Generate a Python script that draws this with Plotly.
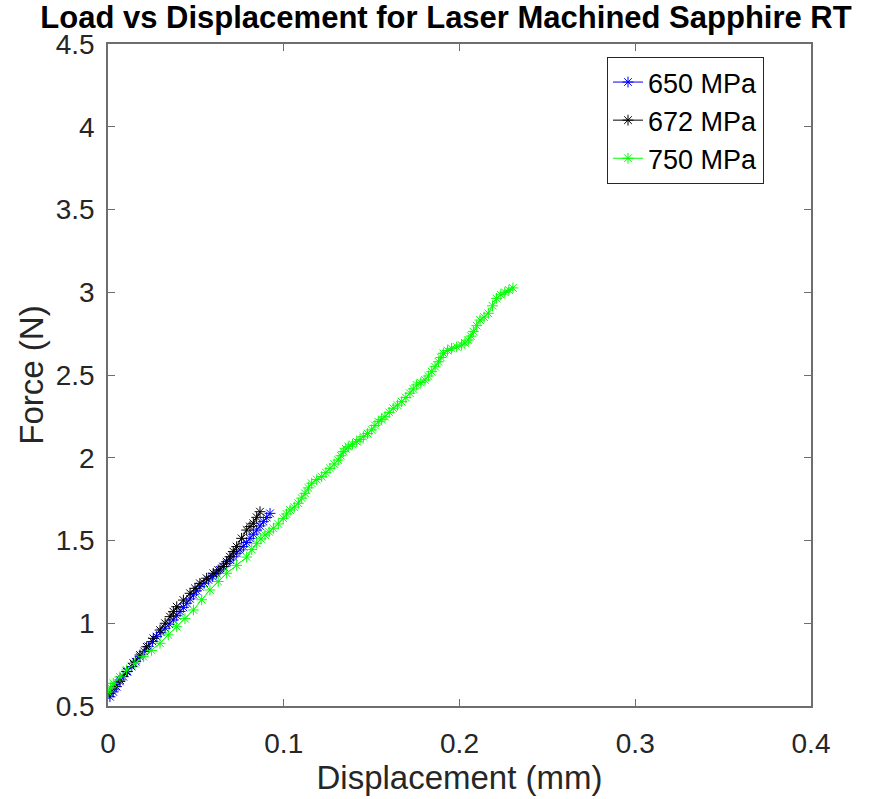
import plotly.graph_objects as go

# ---- data ----
disp_650 = [0.0011, 0.0030, 0.0049, 0.0068, 0.0087, 0.0111, 0.0135, 0.0158, 0.0182, 0.0206,
            0.0230, 0.0253, 0.0277, 0.0301, 0.0325, 0.0348, 0.0372, 0.0391, 0.0410, 0.0429,
            0.0448, 0.0467, 0.0486, 0.0504, 0.0523, 0.0547, 0.0571, 0.0594, 0.0618, 0.0637,
            0.0656, 0.0675, 0.0694, 0.0713, 0.0732, 0.0751, 0.0770, 0.0789, 0.0808, 0.0827,
            0.0846, 0.0865, 0.0884, 0.0903, 0.0922]
force_650 = [0.556, 0.585, 0.617, 0.648, 0.677, 0.708, 0.738, 0.768, 0.798, 0.830,
             0.860, 0.890, 0.919, 0.945, 0.970, 0.995, 1.020, 1.046, 1.071, 1.096,
             1.121, 1.147, 1.172, 1.196, 1.221, 1.242, 1.262, 1.282, 1.302, 1.322,
             1.342, 1.362, 1.382, 1.402, 1.423, 1.443, 1.463, 1.488, 1.513, 1.538,
             1.563, 1.588, 1.614, 1.639, 1.664]

disp_672 = [0.0011, 0.0040, 0.0068, 0.0106, 0.0144, 0.0182, 0.0220, 0.0258, 0.0296, 0.0325,
            0.0353, 0.0372, 0.0391, 0.0429, 0.0467, 0.0495, 0.0523, 0.0561, 0.0599, 0.0627,
            0.0656, 0.0675, 0.0694, 0.0713, 0.0732, 0.0760, 0.0789, 0.0808, 0.0827, 0.0846,
            0.0865]
force_672 = [0.577, 0.617, 0.657, 0.708, 0.758, 0.808, 0.858, 0.909, 0.959, 1.000,
             1.040, 1.070, 1.100, 1.140, 1.181, 1.211, 1.241, 1.272, 1.302, 1.322,
             1.342, 1.372, 1.402, 1.433, 1.463, 1.513, 1.563, 1.584, 1.604, 1.640,
             1.674]

disp_750 = [0.000, 0.0015, 0.003, 0.0068, 0.0106, 0.0153, 0.0201, 0.0248, 0.0296, 0.0343,
            0.0391, 0.0438, 0.0486, 0.0533, 0.0580, 0.0627, 0.0675, 0.0732, 0.0789, 0.0818,
            0.0846, 0.0870, 0.0893, 0.0917, 0.0941, 0.0969, 0.0997, 0.1016, 0.1036, 0.1060,
            0.1083, 0.1102, 0.1121, 0.1140, 0.1159, 0.1188, 0.1216, 0.1240, 0.1263, 0.1287,
            0.1310, 0.1325, 0.1339, 0.1353, 0.1367, 0.1391, 0.1415, 0.1434, 0.1453, 0.1477,
            0.1500, 0.1519, 0.1538, 0.1557, 0.1576, 0.1600, 0.1623, 0.1647, 0.1671, 0.1695,
            0.1718, 0.1737, 0.1756, 0.1780, 0.1804, 0.1823, 0.1842, 0.1861, 0.1880, 0.1894,
            0.1908, 0.1932, 0.1955, 0.1984, 0.2012, 0.2031, 0.2050, 0.2065, 0.2079, 0.2098,
            0.2117, 0.2140, 0.2164, 0.2188, 0.2211, 0.2235, 0.2258, 0.2281, 0.2304]
force_750 = [0.585, 0.610, 0.637, 0.676, 0.718, 0.757, 0.798, 0.836, 0.879, 0.930,
             0.979, 1.028, 1.080, 1.142, 1.201, 1.252, 1.302, 1.350, 1.400, 1.445,
             1.483, 1.510, 1.533, 1.552, 1.574, 1.600, 1.634, 1.660, 1.684, 1.702,
             1.725, 1.756, 1.785, 1.818, 1.846, 1.868, 1.886, 1.910, 1.936, 1.962,
             1.986, 2.012, 2.037, 2.054, 2.067, 2.082, 2.097, 2.110, 2.127, 2.146,
             2.168, 2.195, 2.218, 2.232, 2.248, 2.274, 2.299, 2.318, 2.339, 2.364,
             2.390, 2.416, 2.440, 2.454, 2.470, 2.494, 2.520, 2.550, 2.580, 2.606,
             2.631, 2.648, 2.661, 2.670, 2.681, 2.694, 2.711, 2.735, 2.762, 2.798,
             2.832, 2.850, 2.873, 2.918, 2.963, 2.985, 3.000, 3.013, 3.026]

series_names = ["650 MPa", "672 MPa", "750 MPa"]
series_colors = ["#0000ff", "#000000", "#00ff00"]

x_ticks = [0, 0.1, 0.2, 0.3, 0.4]
x_tick_labels = ["0", "0.1", "0.2", "0.3", "0.4"]
y_ticks = [0.5, 1, 1.5, 2, 2.5, 3, 3.5, 4, 4.5]
y_tick_labels = ["0.5", "1", "1.5", "2", "2.5", "3", "3.5", "4", "4.5"]

FONT = "Liberation Sans, Arial, Helvetica, sans-serif"
TXT = "#262626"
LINE = "#6e6e6e"

fig = go.Figure()
for xs, ys, name, col in zip([disp_650, disp_672, disp_750],
                             [force_650, force_672, force_750],
                             series_names, series_colors):
    fig.add_trace(go.Scatter(
        x=xs, y=ys, name=name, mode="lines+markers",
        line=dict(color=col, width=1),
        marker=dict(symbol="asterisk-open", size=9, color=col,
                    line=dict(color=col, width=1)),
    ))

axis_common = dict(
    showgrid=False, zeroline=False, showline=True, linecolor=LINE, linewidth=1.5,
    mirror="ticks", ticks="inside", ticklen=7, tickcolor=LINE, tickwidth=1,
    tickfont=dict(family=FONT, size=28, color=TXT),
)

fig.update_layout(
    width=887, height=799,
    margin=dict(l=108, r=76, t=44, b=93, pad=0),
    paper_bgcolor="white", plot_bgcolor="white",
    font=dict(family=FONT, color=TXT),
    title=dict(text="<b>Load vs Displacement for Laser Machined Sapphire RT</b>",
               font=dict(family=FONT, size=31, color="black"),
               x=446 / 887, xref="container", xanchor="center",
               y=1 - 17 / 799, yref="container", yanchor="middle"),
    xaxis=dict(range=[0, 0.4], tickvals=x_ticks, ticktext=x_tick_labels,
               title=dict(text="Displacement (mm)", font=dict(family=FONT, size=33, color=TXT),
                          standoff=4),
               ticklabelstandoff=12,
               **axis_common),
    yaxis=dict(range=[0.5, 4.5], tickvals=y_ticks, ticktext=y_tick_labels,
               title=dict(text="Force (N)", font=dict(family=FONT, size=33, color=TXT),
                          standoff=2),
               ticklabelstandoff=6,
               **axis_common),
    legend=dict(x=(607 - 108) / 703, y=(706 - 57) / 662, xanchor="left", yanchor="top",
                bgcolor="white", bordercolor=TXT, borderwidth=1,
                font=dict(family=FONT, size=27, color="black"),
                tracegroupgap=0, itemwidth=30),
    showlegend=True,
)

fig.write_html("out.html")
